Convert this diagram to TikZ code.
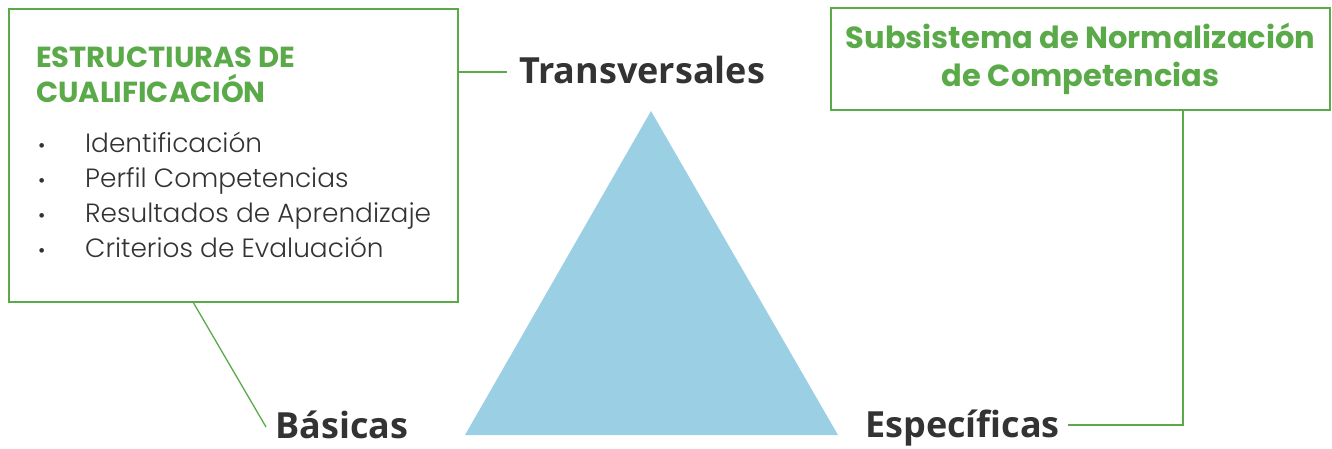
\documentclass[tikz,border=0pt]{standalone}
\usepackage{fontspec}
\setmainfont{Open Sans}
\newfontfamily\headfont{Poppins}[UprightFont=* Bold]
\newfontfamily\lightfont{Poppins}[UprightFont=* Light]
\newfontfamily\labelfont{Open Sans}[UprightFont=* Bold]
\definecolor{grn}{HTML}{5BAA4A}
\definecolor{tri}{HTML}{9BCFE3}
\definecolor{txt}{HTML}{333333}
\begin{document}
\begin{tikzpicture}[x=1pt,y=-1pt,
  box/.style={draw=grn,line width=2pt},
  link/.style={draw=grn,line width=1.3pt},
  lbl/.style={anchor=base west,inner sep=0pt,text=txt,font=\labelfont\fontsize{36}{40}\selectfont},
  head/.style={anchor=base west,inner sep=0pt,text=grn,font=\headfont\fontsize{29}{34}\selectfont},
  item/.style={anchor=base west,inner sep=0pt,text=txt,font=\lightfont\fontsize{26.4}{30}\selectfont},
  ]
\useasboundingbox (0,0) rectangle (1332,448);
\fill[tri] (651,111) -- (838,435) -- (465,435) -- cycle;
% left box
\draw[box] (9,9) rectangle (458,302);
\node[head] (h1) at (36,67) {ESTRUCTIURAS DE};
\node[head] (h2) at (36,102) {CUALIFICACIÓN};
\foreach \y/\t [count=\i] in {152/Identificación,187/Perfil Competencias,222/Resultados de Aprendizaje,257/Criterios de Evaluación}{
  \node[item,font=\lightfont\fontsize{20}{24}\selectfont] (b\i) at (38,\y) {•};
  \node[item] (i\i) at (85,\y) {\t};
}
% right box
\node[draw=grn,line width=2pt,minimum width=499pt,minimum height=102pt,inner sep=0pt,align=center,text=grn,
  font=\headfont\fontsize{30.5}{38}\selectfont] (rb) at (1080.5,59) {Subsistema de Normalización\\de Competencias};
% labels
\node[lbl] (tv) at (519,83) {Transversales};
\node[lbl] (ba) at (275,438) {Básicas};
\node[lbl] (es) at (865,437) {Específicas};
% connectors
\coordinate (c1) at (458,72);
\coordinate (c2) at (193,302);
\coordinate (c3) at (1183,425);
\draw[link] (c1) -- (507,72);
\draw[link] (c2) -- (266,427);
\draw[link] (rb.south -| c3) -- (c3) -- (1068,425);
\end{tikzpicture}
\end{document}
